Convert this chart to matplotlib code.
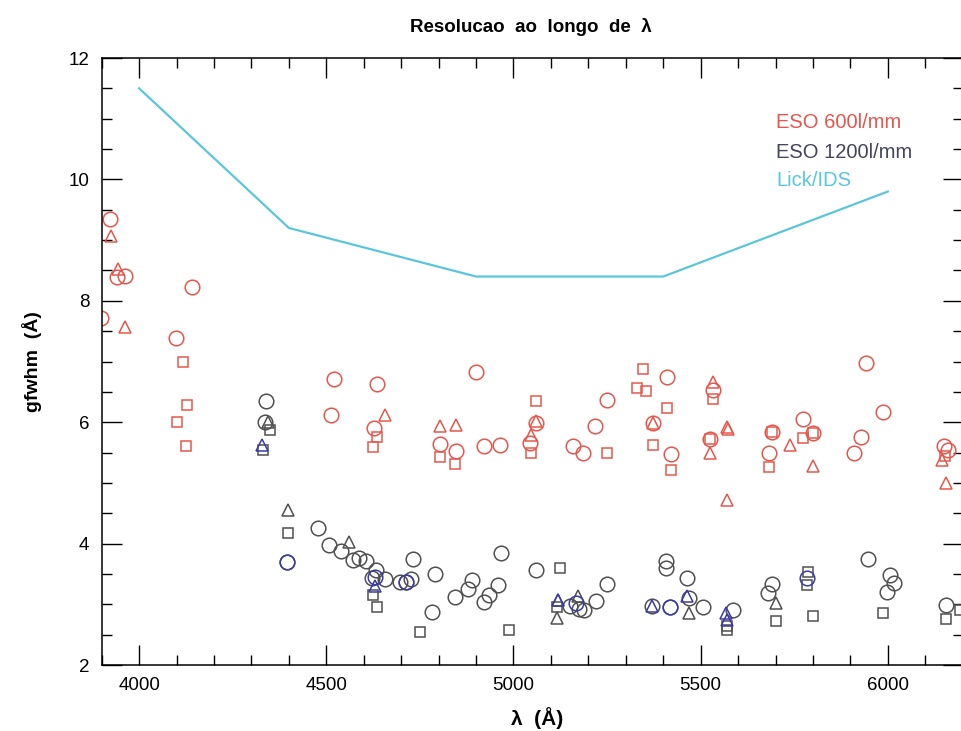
import matplotlib
matplotlib.use("Agg")
import matplotlib.pyplot as plt
from matplotlib.ticker import MultipleLocator

plt.rcParams['font.family'] = ['Liberation Sans', 'DejaVu Sans']

# Lick/IDS resolution curve
lick_x = [4000, 4400, 4900, 5400, 6000]
lick_y = [11.5, 9.2, 8.4, 8.4, 9.8]

# ESO 600 l/mm (red)
red_circ_x = [3898, 3923, 3940, 3963, 4141, 4099, 4520, 4513, 4635, 4627, 4803, 4846,
              4901, 4920, 4963, 5060, 5045, 5251, 5219, 5160, 5187, 5409, 5372, 5422,
              5534, 5525, 5690, 5682, 5773, 5801, 5942, 5986, 5928, 5910, 6149, 6160]
red_circ_y = [7.72, 9.35, 8.40, 8.41, 8.22, 7.39, 6.71, 6.12, 6.63, 5.90, 5.64, 5.53,
              6.83, 5.60, 5.62, 5.98, 5.65, 6.37, 5.93, 5.61, 5.50, 6.74, 5.98, 5.47,
              6.53, 5.72, 5.84, 5.50, 6.05, 5.83, 6.97, 6.16, 5.75, 5.50, 5.60, 5.55]
red_sq_x = [4118, 4127, 4125, 4100, 4635, 4626, 4803, 4844, 5060, 5046, 5251, 5347,
            5329, 5354, 5409, 5372, 5422, 5534, 5525, 5690, 5682, 5773, 5801, 6153]
red_sq_y = [7.00, 6.28, 5.61, 6.00, 5.75, 5.59, 5.43, 5.31, 6.35, 5.50, 5.50, 6.87,
            6.56, 6.52, 6.23, 5.62, 5.21, 6.38, 5.72, 5.84, 5.27, 5.74, 5.83, 5.45]
red_tri_x = [3925, 3943, 3961, 4656, 4803, 4846, 5060, 5046, 5372, 5534, 5525, 5571,
             5573, 5571, 5739, 5801, 6144, 6156]
red_tri_y = [9.07, 8.52, 7.57, 6.12, 5.93, 5.95, 6.02, 5.79, 5.98, 6.66, 5.50, 5.92,
             5.88, 4.72, 5.62, 5.28, 5.38, 5.00]

# ESO 1200 l/mm (dark grey)
blk_circ_x = [4340, 4335, 4396, 4478, 4507, 4540, 4571, 4587, 4607, 4634, 4623, 4658,
              4698, 4714, 4727, 4732, 4790, 4782, 4845, 4879, 4888, 4921, 4934, 4959,
              4967, 5060, 5150, 5175, 5188, 5220, 5251, 5407, 5407, 5370, 5418, 5464,
              5470, 5505, 5587, 5690, 5681, 5948, 6006, 6016, 5997, 6156]
blk_circ_y = [6.35, 6.01, 3.70, 4.25, 3.98, 3.87, 3.73, 3.77, 3.72, 3.57, 3.43, 3.41,
              3.36, 3.37, 3.41, 3.75, 3.50, 2.88, 3.12, 3.26, 3.40, 3.03, 3.15, 3.32,
              3.84, 3.57, 2.97, 2.92, 2.91, 3.05, 3.33, 3.72, 3.59, 2.97, 2.95, 3.43,
              3.10, 2.95, 2.91, 3.33, 3.19, 3.74, 3.48, 3.35, 3.21, 2.99]
blk_sq_x = [4350, 4330, 4397, 4625, 4635, 4749, 4988, 5124, 5115, 5571, 5571, 5701,
            5787, 5783, 5801, 5986, 6156, 6193]
blk_sq_y = [5.87, 5.54, 4.17, 3.15, 2.96, 2.55, 2.58, 3.60, 2.95, 2.64, 2.58, 2.73,
            3.54, 3.32, 2.81, 2.86, 2.75, 2.91]
blk_tri_x = [4344, 4397, 4560, 5119, 5173, 5115, 5470, 5701]
blk_tri_y = [6.01, 4.56, 4.03, 3.07, 3.13, 2.78, 2.85, 3.02]

# ESO 1200 l/mm (blue subset)
blu_circ_x = [4396, 4630, 4714, 5166, 5418, 5783]
blu_circ_y = [3.70, 3.45, 3.37, 3.02, 2.95, 3.43]
blu_tri_x = [4329, 4629, 5370, 5464, 5569, 5571, 5119]
blu_tri_y = [5.62, 3.30, 2.97, 3.13, 2.85, 2.74, 3.07]

red = '#e5574c'
grey = '#505050'
blue = '#3a3aa8'
cyan = '#5bc6db'

fig = plt.figure(figsize=(9.61, 7.31), dpi=100)
ax = fig.add_axes([101.7 / 961, 66 / 731, 861 / 961, 607 / 731])

ax.plot(lick_x, lick_y, color=cyan, lw=1.6)

def pts(x, y, m, c, ms):
    ax.plot(x, y, linestyle='none', marker=m, ms=ms, mfc='none', mec=c, mew=1.1)

pts(red_circ_x, red_circ_y, 'o', red, 10.5)
pts(red_sq_x, red_sq_y, 's', red, 7.5)
pts(red_tri_x, red_tri_y, '^', red, 8.5)
pts(blk_circ_x, blk_circ_y, 'o', grey, 10.5)
pts(blk_sq_x, blk_sq_y, 's', grey, 7.5)
pts(blk_tri_x, blk_tri_y, '^', grey, 8.5)
pts(blu_circ_x, blu_circ_y, 'o', blue, 10.5)
pts(blu_tri_x, blu_tri_y, '^', blue, 8.5)

ax.set_xlim(3900, 6200)
ax.set_ylim(2, 12)
ax.xaxis.set_major_locator(MultipleLocator(500))
ax.xaxis.set_minor_locator(MultipleLocator(100))
ax.yaxis.set_major_locator(MultipleLocator(2))
ax.yaxis.set_minor_locator(MultipleLocator(0.5))
ax.tick_params(which='both', direction='in', top=True, right=True, width=1.0)
ax.tick_params(which='major', length=14.5, labelsize=13.5, pad=9)
ax.tick_params(which='minor', length=7)
for s in ax.spines.values():
    s.set_linewidth(1.1)

fig.text(531 / 961, 1 - 27 / 731, 'Resolucao  ao  longo  de  λ', ha='center', va='center',
         fontsize=13.5, fontweight='bold')
fig.text(537 / 961, 1 - 718 / 731, 'λ  (Å)', ha='center', va='center',
         fontsize=15, fontweight='bold')
fig.text(32 / 961, 1 - 362 / 731, 'gfwhm  (Å)', ha='center', va='center',
         fontsize=14, fontweight='bold', rotation=90)

fig.text(776 / 961, 1 - 122 / 731, 'ESO 600l/mm', color=red, fontsize=14.5, va='center')
fig.text(776 / 961, 1 - 152 / 731, 'ESO 1200l/mm', color='#45455a', fontsize=14.5, va='center')
fig.text(776 / 961, 1 - 180 / 731, 'Lick/IDS', color=cyan, fontsize=14.5, va='center')

fig.savefig('out.png', dpi=100)
